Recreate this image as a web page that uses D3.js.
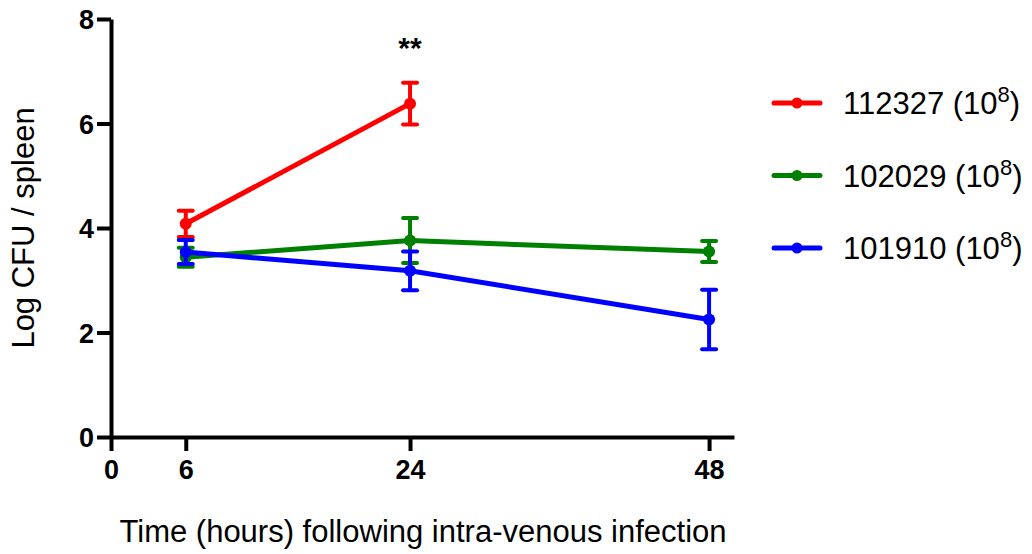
<!DOCTYPE html>
<html lang="en">
<head>
<meta charset="UTF-8">
<title>Log CFU / spleen</title>
<script src="https://d3js.org/d3.v7.min.js"></script>
<style>
body { margin: 0; background: #fff; }
svg text { font-family: "Liberation Sans", Arial, sans-serif; }
</style>
</head>
<body>
<div id="chart"></div>
<script>
// chart values
var hours = [6, 24, 48];
var xTicks = [0, 6, 24, 48];
var yTicks = [0, 2, 4, 6, 8];
var seriesNames = ["112327", "102029", "101910"];
var seriesColors = ["#ff0000", "#008000", "#0000ff"];
var mean112327 = [4.08, 6.38];
var err112327 = [0.25, 0.40];
var mean102029 = [3.44, 3.76, 3.55];
var err102029 = [0.18, 0.43, 0.20];
var mean101910 = [3.54, 3.18, 2.25];
var err101910 = [0.23, 0.37, 0.57];
var starHour = 24, starValue = 7.25, starText = "**";

var series = [
  { name: seriesNames[0], color: seriesColors[0], mean: mean112327, err: err112327 },
  { name: seriesNames[1], color: seriesColors[1], mean: mean102029, err: err102029 },
  { name: seriesNames[2], color: seriesColors[2], mean: mean101910, err: err101910 }
];
series.forEach(function (s) {
  s.points = s.mean.map(function (m, i) { return { x: hours[i], y: m, e: s.err[i] }; });
});

var width = 1032, height = 554;
var svg = d3.select("#chart").append("svg")
  .attr("width", width).attr("height", height);

var x = d3.scaleLinear().domain([0, 50]).range([111, 734]);
var y = d3.scaleLinear().domain([0, 8]).range([437, 19]);

// axes
var xAxis = svg.append("g")
  .attr("transform", "translate(0," + y(0) + ")")
  .call(d3.axisBottom(x).tickValues(xTicks).tickSize(14).tickPadding(9).tickSizeOuter(0));
var yAxis = svg.append("g")
  .attr("transform", "translate(" + x(0) + ",0)")
  .call(d3.axisLeft(y).tickValues(yTicks).tickSize(14).tickPadding(3).tickSizeOuter(0));

[xAxis, yAxis].forEach(function (g) {
  g.select(".domain").attr("stroke", "#000").attr("stroke-width", 4);
  g.selectAll(".tick line").attr("stroke", "#000").attr("stroke-width", 4);
  g.selectAll(".tick text")
    .attr("fill", "#000")
    .attr("font-size", "27px")
    .attr("font-weight", "bold")
    .attr("font-family", "'Liberation Sans', Arial, sans-serif");
});
yAxis.selectAll(".tick text").attr("dy", "0.36em");

// lines, error bars, markers
var line = d3.line().x(function (d) { return x(d.x); }).y(function (d) { return y(d.y); });
var capW = 7;

series.forEach(function (s) {
  var g = svg.append("g");
  g.append("path")
    .datum(s.points)
    .attr("d", line)
    .attr("fill", "none")
    .attr("stroke", s.color)
    .attr("stroke-width", 5);

  var eb = g.selectAll(".err").data(s.points).enter().append("g");
  eb.append("line")
    .attr("x1", function (d) { return x(d.x); }).attr("x2", function (d) { return x(d.x); })
    .attr("y1", function (d) { return y(d.y - d.e); }).attr("y2", function (d) { return y(d.y + d.e); })
    .attr("stroke", s.color).attr("stroke-width", 4);
  [-1, 1].forEach(function (sg) {
    eb.append("line")
      .attr("x1", function (d) { return x(d.x) - capW; }).attr("x2", function (d) { return x(d.x) + capW; })
      .attr("y1", function (d) { return y(d.y + sg * d.e); }).attr("y2", function (d) { return y(d.y + sg * d.e); })
      .attr("stroke", s.color).attr("stroke-width", 4).attr("stroke-linecap", "round");
  });
  g.selectAll("circle").data(s.points).enter().append("circle")
    .attr("cx", function (d) { return x(d.x); })
    .attr("cy", function (d) { return y(d.y); })
    .attr("r", 6)
    .attr("fill", s.color);
});

// significance mark
svg.append("text")
  .attr("x", x(starHour)).attr("y", y(starValue))
  .attr("text-anchor", "middle")
  .attr("font-size", "30px").attr("font-weight", "bold")
  .text(starText);

// axis titles
svg.append("text")
  .attr("transform", "translate(34," + 228 + ") rotate(-90)")
  .attr("text-anchor", "middle")
  .attr("font-size", "31px")
  .text("Log CFU / spleen");
svg.append("text")
  .attr("x", 423).attr("y", 542)
  .attr("text-anchor", "middle")
  .attr("font-size", "31px")
  .text("Time (hours) following intra-venous infection");

// legend
var legend = svg.append("g").attr("transform", "translate(774,103)");
series.forEach(function (s, i) {
  var row = legend.append("g").attr("transform", "translate(0," + (i * 72.5) + ")");
  row.append("line").attr("x1", 0).attr("x2", 46).attr("y1", 0).attr("y2", 0)
    .attr("stroke", s.color).attr("stroke-width", 5).attr("stroke-linecap", "round");
  row.append("circle").attr("cx", 23).attr("cy", 0).attr("r", 5.5).attr("fill", s.color);
  var t = row.append("text").attr("x", 69).attr("y", 11).attr("font-size", "31px");
  t.append("tspan").text(s.name + " (10");
  t.append("tspan").attr("dy", -12).attr("font-size", "22px").text("8");
  t.append("tspan").attr("dy", 12).text(")");
});
</script>
</body>
</html>
